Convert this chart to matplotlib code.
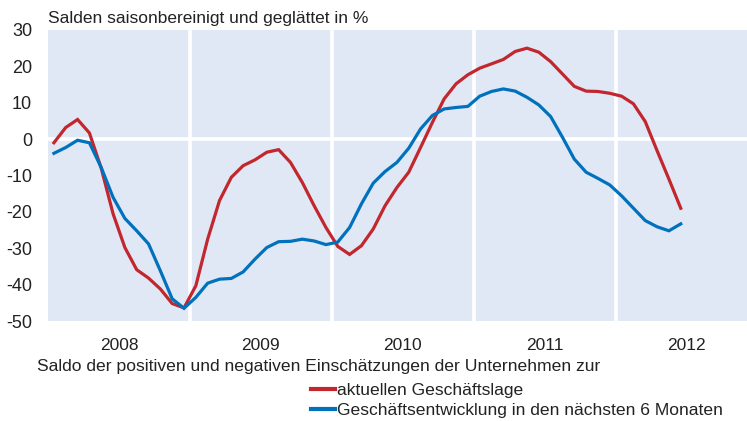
import matplotlib
matplotlib.use("Agg")
import matplotlib.pyplot as plt
from matplotlib.lines import Line2D
import numpy as np

plt.rcParams['font.family'] = ['Liberation Sans', 'DejaVu Sans']

years = ["2008", "2009", "2010", "2011", "2012"]
# monthly values, Jan 2008 .. Jun 2012
lage = [-1.0, 3.2, 5.4, 1.7, -8.0, -20.5, -29.8, -35.9, -38.2, -41.2, -45.2, -46.4,
        -40.3, -27.5, -16.9, -10.5, -7.3, -5.7, -3.6, -2.9, -6.4, -11.9, -18.3, -24.3,
        -29.5, -31.7, -29.3, -24.7, -18.3, -13.3, -9.1, -2.3, 4.6, 11.1, 15.2, 17.7,
        19.5, 20.7, 21.9, 24.1, 25.0, 23.9, 21.3, 17.9, 14.5, 13.2, 13.1, 12.6,
        11.8, 9.7, 4.8, -3.2, -11.0, -19.0]
erwartung = [-3.9, -2.3, -0.3, -1.0, -7.8, -16.0, -21.8, -25.2, -28.8, -36.2, -43.9, -46.5,
             -43.5, -39.6, -38.5, -38.3, -36.5, -33.0, -29.8, -28.2, -28.1, -27.5, -28.0, -29.0,
             -28.3, -24.3, -17.8, -12.1, -8.9, -6.4, -2.5, 2.8, 6.5, 8.3, 8.7, 9.0,
             11.8, 13.1, 13.8, 13.2, 11.5, 9.4, 6.2, 0.5, -5.5, -9.1, -10.8, -12.6,
             -15.6, -19.0, -22.4, -24.1, -25.2, -23.3]
yticks = [30, 20, 10, 0, -10, -20, -30, -40, -50]
label_lage = "aktuellen Geschäftslage"
label_erw = "Geschäftsentwicklung in den nächsten 6 Monaten"

RED = "#C1272D"
BLUE = "#0071BC"
BG = "#E1E8F5"
TXT = "#222222"

W, H = 747, 421
fig = plt.figure(figsize=(W / 100, H / 100), dpi=100)
ax = fig.add_axes([48 / W, 1 - 321 / H, (747 - 48) / W, (321 - 30) / H])
ax.set_facecolor(BG)

x = np.arange(len(lage))
ax.set_xlim(-0.5, 58.6)
ax.set_ylim(-50, 30)

for b in [11.5, 23.5, 35.5, 47.5]:
    ax.axvline(b, color="white", lw=2.6, zorder=1)
ax.axhline(0, color="white", lw=2.6, zorder=1)

ax.plot(x, lage, color=RED, lw=2.3, zorder=3, solid_joinstyle="miter")
ax.plot(x, erwartung, color=BLUE, lw=2.3, zorder=3, solid_joinstyle="miter")

for s in ax.spines.values():
    s.set_visible(False)

ax.set_yticks(yticks)
ax.set_yticklabels([str(t) for t in yticks], fontsize=13, color=TXT)
ax.tick_params(axis="y", length=0, pad=11.5)
ax.set_xticks([5.5 + 12 * i for i in range(len(years))])
ax.set_xticklabels(years, fontsize=12.5, color=TXT)
ax.tick_params(axis="x", length=0, pad=12.5)

fig.text(48 / W, 1 - 18.5 / H, "Salden saisonbereinigt und geglättet in %",
         fontsize=12.5, color=TXT, va="center", ha="left")
fig.text(37 / W, 1 - 367 / H,
         "Saldo der positiven und negativen Einschätzungen der Unternehmen zur",
         fontsize=12.6, color=TXT, va="center", ha="left")

handles = [Line2D([], [], color=RED, lw=3), Line2D([], [], color=BLUE, lw=3)]
fig.legend(handles, [label_lage, label_erw], loc="upper left",
           bbox_to_anchor=(311 / W, 1 - 383 / H), frameon=False,
           fontsize=12.6, handlelength=1.35, handletextpad=0.15,
           labelspacing=0.25, borderpad=0, borderaxespad=0,
           labelcolor=TXT)

fig.savefig("out.png", dpi=100)
